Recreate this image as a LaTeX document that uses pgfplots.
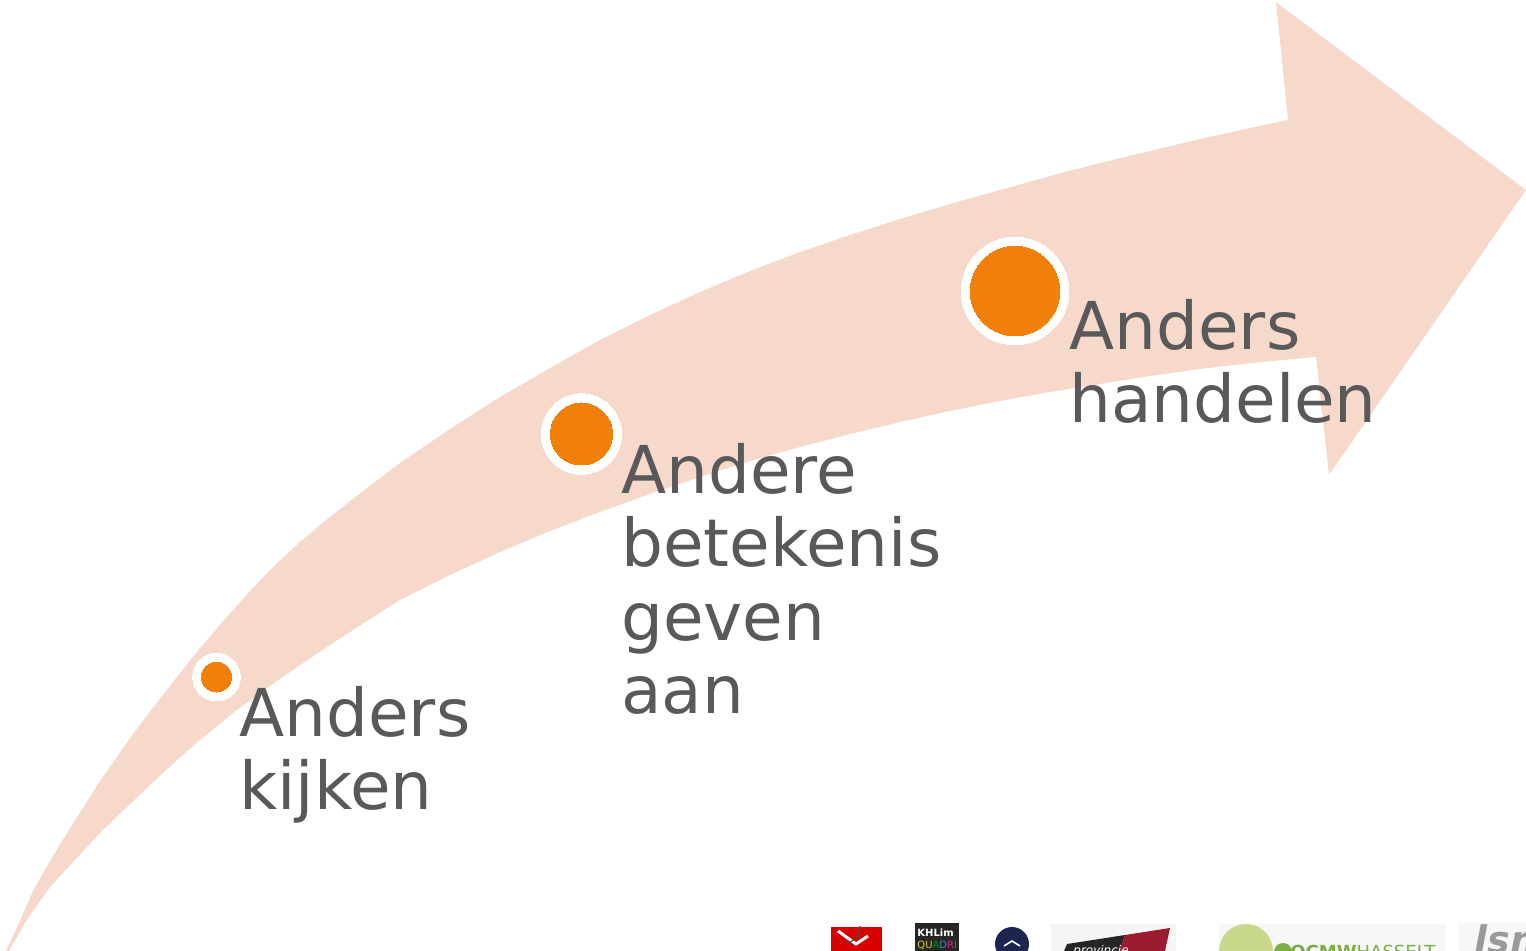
\documentclass[border=0pt]{standalone}
\usepackage{pgfplots}
\pgfplotsset{compat=1.18}
\usepackage{fontspec}
\setmainfont{DejaVu Sans}
\definecolor{arrowc}{HTML}{F7D9CC}
\definecolor{orangec}{HTML}{F0800A}
\definecolor{textc}{HTML}{595959}
\definecolor{navyc}{HTML}{1B2550}
\definecolor{maroonc}{HTML}{9B1B30}
\definecolor{lgreen}{HTML}{C8D98C}
\definecolor{dgreen}{HTML}{7AB040}
\definecolor{lsmc}{HTML}{9A9A9A}
\begin{document}
\begin{tikzpicture}
\begin{axis}[name=ax, width=763pt, height=475.5pt, scale only axis, hide axis,
  xmin=0, xmax=1526, ymin=0, ymax=951, y dir=reverse, clip=true]
% curved arrow outline (pixel coordinates)
\addplot[fill=arrowc, draw=none] coordinates {
(6,951) (20,921) (33,891) (50,861) (67,833) (100,781) (133,734) (155,705) (177,677) (200,648) (225,619)
(250,591) (275,565) (300,542) (325,521) (350,501) (375,482) (400,463) (450,429) (500,397) (550,368)
(600,340) (650,315) (700,292) (750,271)
(800,252) (850,235) (900,219) (950,204) (1000,190) (1050,176) (1100,163) (1150,151) (1200,139)
(1250,128) (1288,120)
(1276,2) (1526,190) (1329,475) (1316,357)
(1260,362) (1200,369) (1150,376) (1100,384) (1050,392) (1000,401) (950,411) (900,422) (850,434)
(800,447) (750,461) (700,477) (650,494) (600,512) (550,531) (500,552) (450,575) (400,600) (367,621) (333,643)
(300,665) (267,688) (233,713) (200,740) (175,762) (150,785) (125,809) (100,833) (75,860) (50,887) (28,918) (9,951)
} -- cycle;
% circles
\addplot[only marks, mark=*, color=white, line width=0pt, mark size=11.9pt] coordinates {(216.5,677)};
\addplot[only marks, mark=*, color=orangec, line width=0pt, mark size=7.5pt] coordinates {(216.5,677)};
\addplot[only marks, mark=*, color=white, line width=0pt, mark size=20.1pt] coordinates {(581.5,434)};
\addplot[only marks, mark=*, color=orangec, line width=0pt, mark size=15.5pt] coordinates {(581.5,434)};
\addplot[only marks, mark=*, color=white, line width=0pt, mark size=26.9pt] coordinates {(1015,291)};
\addplot[only marks, mark=*, color=orangec, line width=0pt, mark size=22.4pt] coordinates {(1015,291)};
% texts
\tikzset{lbl/.style={anchor=base west, inner sep=0pt, text=textc, font=\fontsize{33}{36}\selectfont}}
\node[lbl] at (axis cs:239,736) {Anders};
\node[lbl] at (axis cs:239,809) {kijken};
\node[lbl] at (axis cs:621,494) {Andere};
\node[lbl] at (axis cs:621,567) {betekenis};
\node[lbl] at (axis cs:621,640) {geven};
\node[lbl] at (axis cs:621,713) {aan};
\node[lbl] at (axis cs:1069,350) {Anders};
\node[lbl] at (axis cs:1069,423) {handelen};
% partner logos along the bottom edge
\begin{scope}
\clip (axis cs:0,0) rectangle (axis cs:1526,951);
\fill[red!85!black] (axis cs:831,927) rectangle (axis cs:882,951);
\draw[white, line width=1.5pt] (axis cs:838,931) -- (axis cs:856,944) -- (axis cs:868,936);
\draw[black!70, line width=0.6pt] (axis cs:860,926) .. controls (axis cs:858,938) .. (axis cs:846,944);
\fill[black!85] (axis cs:915,923) rectangle (axis cs:959,951);
\node[anchor=base west, inner sep=0pt, text=white, font=\bfseries\fontsize{5}{5}\selectfont] at (axis cs:917,936) {KHLim};
\node[anchor=base west, inner sep=0pt, font=\fontsize{5}{5}\selectfont] at (axis cs:917,948) {\textcolor{yellow!80!black}{QU}\textcolor{green!60!black}{A}\textcolor{cyan!70!black}{D}\textcolor{magenta!80!black}{RI}};
\fill[navyc] (axis cs:1012,944) circle[radius=8.5pt];
\draw[white, line width=0.8pt] (axis cs:1004,946) -- (axis cs:1012,941) -- (axis cs:1020,946);
\fill[black!4] (axis cs:1051,924) rectangle (axis cs:1176,951);
\fill[black!85] (axis cs:1067,944) -- (axis cs:1125,935) -- (axis cs:1120,951) -- (axis cs:1064,951) -- cycle;
\fill[maroonc] (axis cs:1125,935) -- (axis cs:1170,928) -- (axis cs:1165,951) -- (axis cs:1120,951) -- cycle;
\node[anchor=base west, inner sep=0pt, text=white, font=\itshape\fontsize{6}{6}\selectfont] at (axis cs:1073,954) {provincie};
\fill[black!3] (axis cs:1219,924) rectangle (axis cs:1446,951);
\fill[lgreen] (axis cs:1246,951) circle[radius=13.5pt];
\fill[dgreen] (axis cs:1283,952) circle[radius=4.5pt];
\node[anchor=base west, inner sep=0pt, text=dgreen, font=\fontsize{9}{9}\selectfont] at (axis cs:1290,958) {\textbf{OCMW}HASSELT};
\fill[black!3] (axis cs:1459,923) rectangle (axis cs:1526,951);
\node[anchor=base west, inner sep=0pt, text=lsmc, font=\bfseries\itshape\fontsize{19}{19}\selectfont] at (axis cs:1474,953) {lsm};
\end{scope}
\end{axis}
\pgfresetboundingbox
\path (ax.south west) rectangle (ax.north east);
\end{tikzpicture}
\end{document}
